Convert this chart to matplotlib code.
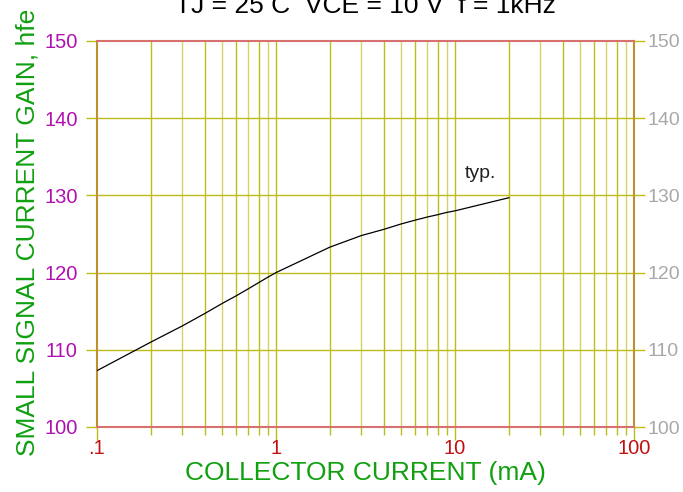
import matplotlib
matplotlib.use("Agg")
import matplotlib.pyplot as plt
import numpy as np

current_ma = [0.1, 0.2, 0.3, 0.4, 0.5, 0.6, 0.7, 0.8, 0.9, 1, 2, 3, 4, 5, 6, 7, 8, 9, 10, 20]
hfe = [107.3, 111.0, 113.1, 114.7, 116.0, 117.0, 117.9, 118.7, 119.4, 120.0,
       123.3, 124.8, 125.6, 126.3, 126.8, 127.2, 127.5, 127.8, 128.0, 129.7]
x_ticks = [0.1, 1, 10, 100]
x_ticklabels = [".1", "1", "10", "100"]
y_ticks = [100, 110, 120, 130, 140, 150]

plt.rcParams['font.family'] = ['Liberation Sans', 'DejaVu Sans']
fig = plt.figure(figsize=(6.83, 4.92), dpi=100)
ax = fig.add_axes([97/683, 1-427/492, 537/683, 386/492])
ax.set_xscale('log')
ax.set_xlim(0.1, 100)
ax.set_ylim(100, 150)

grid_c = '#bdbd1a'
minor_c = '#d2d266'
# vertical grid lines
for dec in [0.1, 1, 10]:
    for m in range(2, 10):
        v = dec * m
        ax.axvline(v, color=minor_c if m % 2 else grid_c, lw=1.0, zorder=1)
for v in [1, 10]:
    ax.axvline(v, color=grid_c, lw=1.0, zorder=1)
for v in y_ticks[1:-1]:
    ax.axhline(v, color=grid_c, lw=1.0, zorder=1)

ax.plot(current_ma, hfe, color='black', lw=0.9, zorder=3)
ax.text(13.8, 132.9, 'typ.', fontsize=14, color='#222222', ha='center', va='center')

for s in ['top', 'bottom']:
    ax.spines[s].set_color('#d87070')
    ax.spines[s].set_linewidth(1.5)
for s in ['left', 'right']:
    ax.spines[s].set_color('#c09030')
    ax.spines[s].set_linewidth(1.5)

ax.set_xticks(x_ticks)
ax.set_xticklabels(x_ticklabels)
ax.xaxis.set_minor_locator(matplotlib.ticker.LogLocator(subs=np.arange(2, 10)))
ax.xaxis.set_minor_formatter(matplotlib.ticker.NullFormatter())
ax.tick_params(axis='x', which='major', length=9, width=1.0, color=grid_c,
               labelcolor='#c01010', labelsize=14.5, pad=0)
ax.tick_params(axis='x', which='minor', length=6, width=1.0, color=grid_c)
ax.set_yticks(y_ticks)
ax.tick_params(axis='y', which='both', length=8, width=1.0, color=grid_c,
               labelcolor='#b010b0', labelsize=14.5, right=True, pad=6)

ax2 = ax.twinx()
ax2.set_ylim(100, 150)
ax2.set_yticks(y_ticks)
ax2.tick_params(axis='y', length=8, width=1.0, color=grid_c, labelcolor='#a8a8a8',
                labelsize=14, pad=2)
for s in ax2.spines.values():
    s.set_visible(False)

fig.text(365/683, 1-6/492, 'TJ = 25 C  VCE = 10 V  f = 1kHz', fontsize=19,
         ha='center', va='center', color='black')
fig.text(365/683, 1-473/492, 'COLLECTOR CURRENT (mA)', fontsize=19, color='#10a010',
         ha='center', va='center')
fig.text(28/683, 1-232/492, 'SMALL SIGNAL CURRENT GAIN, hfe', fontsize=19, color='#10a010',
         ha='center', va='center', rotation=90)

fig.savefig('out.png', dpi=100)
